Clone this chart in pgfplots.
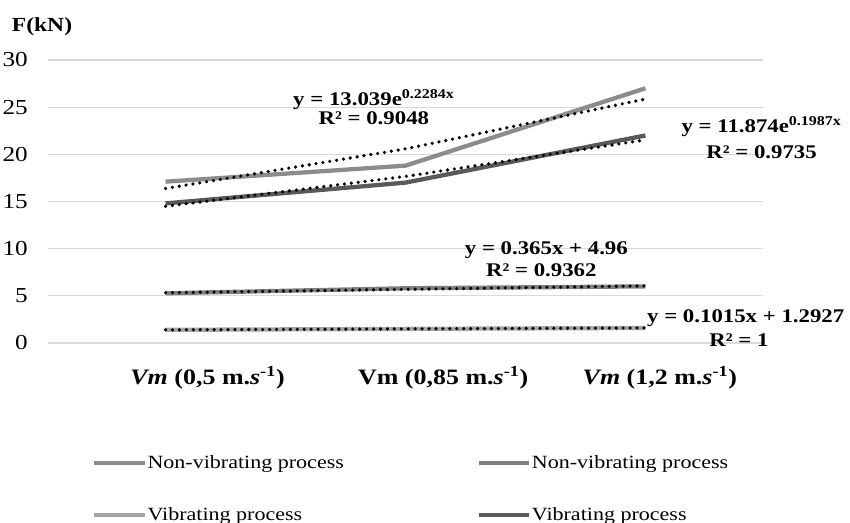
\documentclass[border=0pt]{standalone}
\usepackage{pgfplots}
\pgfplotsset{compat=1.18}
\usepackage{fontspec}
\setmainfont{Liberation Serif}[FakeStretch=1.18]
\definecolor{gridc}{HTML}{D9D9D9}
\definecolor{sA}{HTML}{8C8C8C}
\definecolor{sB}{HTML}{7F7F7F}
\definecolor{sC}{HTML}{A6A6A6}
\definecolor{sD}{HTML}{595959}
\begin{document}
\begin{tikzpicture}
\path[use as bounding box] (0pt,0pt) rectangle (637.5pt,392.25pt);
\node[font=\fontsize{15}{17}\selectfont\bfseries] at (31.5pt,372pt) {F(kN)};
\begin{axis}[
  at={(36pt,135pt)}, anchor=south west,
  scale only axis, width=536.25pt, height=212.25pt,
  xmin=-0.49, xmax=2.49, ymin=0, ymax=30,
  xtick={0.175,1.157,2.06},
  xticklabels={{\textbf{\textit{Vm} (0,5 m.\textit{s}\textsuperscript{-1})}},
               {\textbf{Vm (0,85 m.\textit{s}\textsuperscript{-1})}},
               {\textbf{\textit{Vm} (1,2 m.\textit{s}\textsuperscript{-1})}}},
  ytick={0,5,...,30},
  ymajorgrids, xmajorgrids=false, major grid style={draw=gridc, line width=0.8pt},
  axis line style={draw=none},
  major tick length=0pt,
  /pgf/number format/assume math mode=true,
  yticklabel style={anchor=east, inner sep=0pt, xshift=-15pt, font=\fontsize{16}{18}\selectfont},
  xticklabel style={anchor=center, yshift=-26pt, font=\fontsize{16.5}{18}\selectfont},
  clip=false,
  legend columns=2,
  legend cell align=left,
  legend image code/.code={\draw[#1, line width=3pt] (0pt,0pt) -- (38pt,0pt);},
  legend style={at={(0.0615,-0.515)}, anchor=west, draw=none, fill=none,
    font=\fontsize{14}{16}\selectfont, inner sep=0pt,
    nodes={inner sep=0.5pt}, row sep=27pt,
    /tikz/every even column/.append style={column sep=99pt}},
  every axis plot/.append style={line width=3.2pt},
]
% data series
\addplot[sA] coordinates {(0,17.1) (1,18.8) (2,27.0)};
\addlegendentry{Non-vibrating process}
\addplot[sB] coordinates {(0,5.27) (1,5.80) (2,6.00)};
\addlegendentry{Non-vibrating process}
\addplot[sC] coordinates {(0,1.394) (1,1.496) (2,1.597)};
\addlegendentry{Vibrating process}
\addplot[sD] coordinates {(0,14.8) (1,17.0) (2,22.0)};
\addlegendentry{Vibrating process}
% trend lines
\pgfplotsset{trend/.style={black, line width=2.7pt, line cap=round, dash pattern=on 0pt off 5.2pt, forget plot}}
\addplot[trend] coordinates {(0,16.38) (1,20.58) (2,25.86)};
\addplot[trend] coordinates {(0,14.49) (1,17.66) (2,21.53)};
\addplot[trend] coordinates {(0,5.325) (1,5.69) (2,6.055)};
\addplot[trend] coordinates {(0,1.394) (1,1.496) (2,1.597)};
% annotations
\begin{scope}[every node/.style={font=\fontsize{14.5}{16}\selectfont\bfseries, inner sep=0pt}]
\node at (axis cs:0.868,25.76) {y = 13.039e\textsuperscript{0.2284x}};
\node at (axis cs:0.868,23.85) {R² = 0.9048};
\node at (axis cs:2.484,22.9) {y = 11.874e\textsuperscript{0.1987x}};
\node at (axis cs:2.484,20.25) {R² = 0.9735};
\node at (axis cs:1.587,9.86) {y = 0.365x + 4.96};
\node at (axis cs:1.566,7.74) {R² = 0.9362};
\node at (axis cs:2.418,2.65) {y = 0.1015x + 1.2927};
\node at (axis cs:2.39,0.32) {R² = 1};
\end{scope}
\end{axis}
\end{tikzpicture}
\end{document}
